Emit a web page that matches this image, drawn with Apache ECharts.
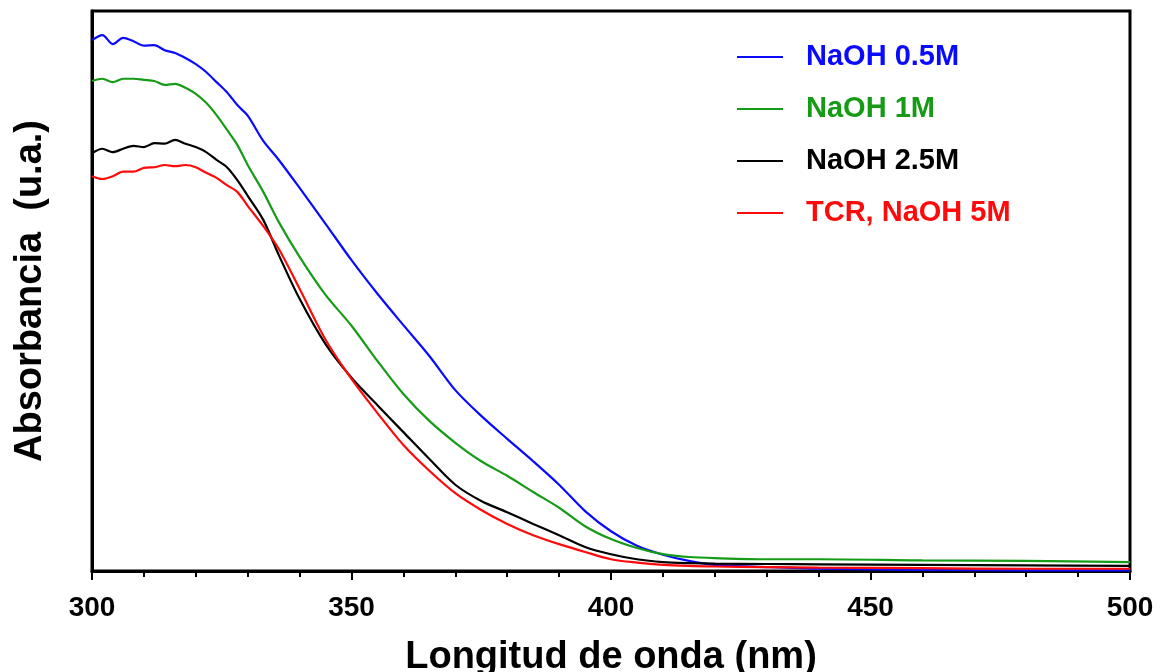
<!DOCTYPE html>
<html>
<head>
<meta charset="utf-8">
<script src="https://cdn.jsdelivr.net/npm/echarts@6/dist/echarts.min.js"></script>
<style>
  html, body { margin: 0; padding: 0; background: #fff; }
  #chart { width: 1161px; height: 672px; }
</style>
</head>
<body>
<div id="chart"></div>
<script>
// Wavelength grid (nm) shared by all spectra
const wavelengths = [300, 302, 304, 306, 308, 310, 312, 314, 316, 318, 320, 322, 324, 326, 328, 330, 333, 336, 340, 345,
  350, 355, 360, 365, 370, 375, 380, 385, 390, 395, 400, 405, 410, 415, 420, 430, 440, 460, 480, 500];

// Absorbance (arbitrary units) for each NaOH concentration
const naoh05 = [0.948, 0.957, 0.941, 0.952, 0.946, 0.938, 0.939, 0.930, 0.925, 0.916, 0.905, 0.891, 0.873, 0.855, 0.832, 0.813, 0.768, 0.734, 0.684, 0.620,
  0.555, 0.495, 0.439, 0.384, 0.323, 0.277, 0.236, 0.196, 0.154, 0.107, 0.071, 0.045, 0.029, 0.018, 0.011, 0.007, 0.004, 0.002, 0.001, 0.001];
const naoh1 = [0.875, 0.879, 0.873, 0.879, 0.879, 0.877, 0.875, 0.868, 0.870, 0.863, 0.852, 0.836, 0.814, 0.788, 0.761, 0.725, 0.677, 0.623, 0.561, 0.493,
  0.438, 0.375, 0.316, 0.268, 0.229, 0.196, 0.170, 0.141, 0.113, 0.080, 0.057, 0.041, 0.030, 0.025, 0.023, 0.021, 0.021, 0.019, 0.018, 0.016];
const naoh25 = [0.746, 0.754, 0.748, 0.754, 0.759, 0.757, 0.764, 0.763, 0.770, 0.763, 0.757, 0.748, 0.734, 0.721, 0.698, 0.670, 0.627, 0.564, 0.486, 0.405,
  0.345, 0.296, 0.248, 0.200, 0.154, 0.125, 0.105, 0.084, 0.064, 0.043, 0.030, 0.021, 0.016, 0.014, 0.013, 0.0125, 0.012, 0.011, 0.010, 0.009];
const tcr5 = [0.705, 0.700, 0.705, 0.713, 0.713, 0.720, 0.721, 0.725, 0.723, 0.725, 0.721, 0.711, 0.702, 0.689, 0.677, 0.652, 0.616, 0.575, 0.504, 0.413,
  0.343, 0.282, 0.225, 0.179, 0.139, 0.109, 0.084, 0.064, 0.048, 0.034, 0.021, 0.015, 0.011, 0.009, 0.008, 0.007, 0.006, 0.005, 0.004, 0.004];

const seriesNames = ['NaOH 0.5M', 'NaOH 1M', 'NaOH 2.5M', 'TCR, NaOH 5M'];
const seriesColors = ['#0a0aff', '#169b16', '#000000', '#ff0a0a'];
const seriesValues = [naoh05, naoh1, naoh25, tcr5];

const FONT = '"Liberation Sans", Arial, sans-serif';

const chart = echarts.init(document.getElementById('chart'));

chart.setOption({
  animation: false,
  backgroundColor: '#fff',
  grid: {
    left: 92, right: 31, top: 11, bottom: 101,
    outerBoundsMode: 'none',
    containLabel: false,
    show: true, borderColor: '#000', borderWidth: 3, backgroundColor: 'transparent'
  },
  legend: {
    orient: 'vertical',
    left: 732,
    top: 37,
    itemWidth: 46,
    itemHeight: 2,
    itemGap: 22,
    icon: 'rect',
    data: seriesNames.map((n, i) => ({
      name: n,
      itemStyle: { color: seriesColors[i] },
      textStyle: { color: seriesColors[i] }
    })),
    textStyle: {
      fontFamily: FONT, fontWeight: 'bold', fontSize: 29, lineHeight: 30,
      padding: [0, 0, 0, 18]
    }
  },
  xAxis: {
    type: 'value',
    min: 300, max: 500, interval: 50,
    name: 'Longitud de onda (nm)',
    nameLocation: 'middle',
    nameGap: 68,
    nameTextStyle: { fontFamily: FONT, fontWeight: 'bold', fontSize: 38, color: '#000' },
    axisLine: { show: true, onZero: false, lineStyle: { color: '#000', width: 3 } },
    axisTick: { show: true, inside: false, length: 9, lineStyle: { color: '#000', width: 2 } },
    minorTick: { show: true, splitNumber: 5, length: 6, lineStyle: { color: '#000', width: 2 } },
    axisLabel: { margin: 23, fontFamily: FONT, fontWeight: 'bold', fontSize: 28, color: '#000' },
    splitLine: { show: false },
    minorSplitLine: { show: false }
  },
  yAxis: {
    type: 'value',
    min: 0, max: 1,
    name: 'Absorbancia  (u.a.)',
    nameLocation: 'middle',
    nameGap: 42,
    nameRotate: 90,
    nameTextStyle: { fontFamily: FONT, fontWeight: 'bold', fontSize: 38, color: '#000' },
    axisLine: { show: true, onZero: false, lineStyle: { color: '#000', width: 3 } },
    axisTick: { show: false },
    axisLabel: { show: false },
    splitLine: { show: false }
  },
  series: seriesNames.map((n, i) => ({
    name: n,
    type: 'line',
    showSymbol: false,
    smooth: 0.3,
    data: wavelengths.map((w, k) => [w, seriesValues[i][k]]),
    lineStyle: { color: seriesColors[i], width: 2.2 },
    itemStyle: { color: seriesColors[i] }
  }))
});
</script>
</body>
</html>
